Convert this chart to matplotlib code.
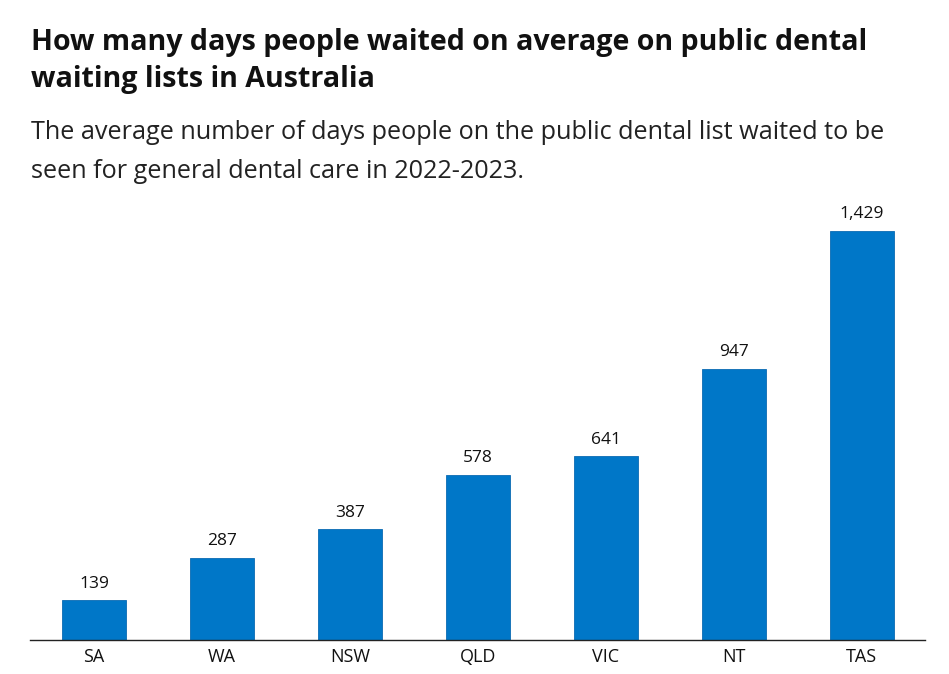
import matplotlib
matplotlib.use('Agg')
from matplotlib import pyplot as plt

# data
states = ['SA', 'WA', 'NSW', 'QLD', 'VIC', 'NT', 'TAS']
wait_days = [139, 287, 387, 578, 641, 947, 1429]
value_labels = ['139', '287', '387', '578', '641', '947', '1,429']

title = 'How many days people waited on average on public dental\nwaiting lists in Australia'
subtitle = ('The average number of days people on the public dental list waited to be\n'
            'seen for general dental care in 2022-2023.')

BAR_COLOR = '#0077C8'
FONT = 'Open Sans'


def main():
    fig = plt.figure(figsize=(9.49, 6.74), dpi=100)
    ax = fig.add_axes([30 / 949, 34 / 674, 895.5 / 949, 440 / 674])

    x = range(len(states))
    ax.bar(x, wait_days, width=0.5, color=BAR_COLOR, edgecolor='#0a6ab3', linewidth=0.6, zorder=2)
    for i, v in enumerate(wait_days):
        ax.text(i, v + 30, value_labels[i], ha='center', va='bottom',
                fontsize=12.5, family=FONT, color='#111111')

    ax.set_xlim(-0.5, len(states) - 0.5)
    ax.set_ylim(0, 1537)
    ax.set_xticks(list(x))
    ax.set_xticklabels(states, fontsize=13, family=FONT, color='#111111')
    ax.tick_params(axis='x', length=0, pad=6)
    ax.set_yticks([])
    for side in ['top', 'right', 'left']:
        ax.spines[side].set_visible(False)
    ax.spines['bottom'].set_color('#222222')
    ax.spines['bottom'].set_linewidth(1.0)

    fig.text(31 / 949, 1 - 61 / 674, title, ha='left', va='center', fontsize=20.6,
             fontweight='bold', family=FONT, color='#111111', linespacing=1.36)
    fig.text(31 / 949, 1 - 152 / 674, subtitle, ha='left', va='center', fontsize=18.2,
             family=FONT, color='#222222', linespacing=1.78)

    fig.savefig('out.png', dpi=100)


if __name__ == '__main__':
    main()
